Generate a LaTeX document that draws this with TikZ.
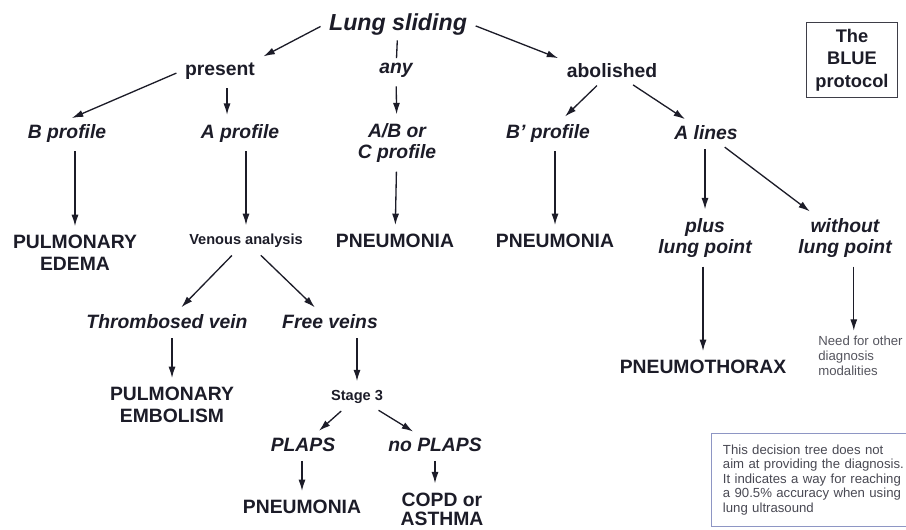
\documentclass[tikz,border=0pt]{standalone}
\usepackage{fontspec}
\setmainfont{Liberation Sans}
\usepackage{tikz}
\usetikzlibrary{positioning}
\usetikzlibrary{arrows.meta}

\definecolor{ink}{HTML}{1C1C28}
\definecolor{noteline}{HTML}{8E96C4}

\tikzset{
    outcome/.style={font=\fontsize{11}{12.5}\selectfont\bfseries, text=ink, align=center, inner sep=2pt},
    finding/.style={font=\fontsize{11}{12}\selectfont\bfseries\itshape, text=ink, align=center, inner sep=2pt},
    branch/.style={font=\fontsize{11}{12.5}\selectfont\bfseries, text=ink, inner sep=2pt},
    minor/.style={font=\fontsize{8.3}{10}\selectfont\bfseries, text=ink, inner sep=2pt},
    arr/.style={-{Latex[length=6.5pt,width=4pt]}, line width=0.75pt, draw=ink, shorten >=3pt, shorten <=3pt},
    link/.style={line width=0.75pt, draw=ink, shorten >=0.5pt, shorten <=1pt},
}

\begin{document}
\begin{tikzpicture}[x=0.02cm, y=-0.02cm]
    \useasboundingbox (0,0) rectangle (906,529);

    \node [finding, font=\fontsize{13.2}{15}\selectfont\bfseries\itshape] (sliding) at (398,24) {Lung sliding};

    \node [branch] (present) at (220,71) {present};
    \node [finding] (any) at (396,70) {any};
    \node [branch] (abolished) at (612,71) {abolished};

    \node [finding] (bprof) at (67,133) {B profile};
    \node [finding] (aprof) at (240,133) {A profile};
    \node [finding] (abc) at (397,143) {A/B or\\C profile};
    \node [finding] (bpprof) at (548,133) {B' profile};
    \node [finding] (alines) at (706,133) {A lines};

    \node [outcome] (edema) at (75,253) {PULMONARY\\EDEMA};
    \node [minor] (venous) at (246,241) {Venous analysis};
    \node [outcome] (pneuab) at (395,241) {PNEUMONIA};
    \node [outcome] (pneubp) at (555,241) {PNEUMONIA};
    \node [finding] (plus) at (705,238) {plus\\lung point};
    \node [finding] (without) at (845,238) {without\\lung point};

    \node [finding] (thromb) at (167,322) {Thrombosed vein};
    \node [finding] (free) at (330,322) {Free veins};
    \node [outcome] (embol) at (172,405) {PULMONARY\\EMBOLISM};
    \node [minor] (stage) at (357,397) {Stage 3};
    \node [finding] (plaps) at (303,445) {PLAPS};
    \node [finding] (noplaps) at (435,445) {no PLAPS};
    \node [outcome] (pneupl) at (302,507) {PNEUMONIA};
    \node [outcome, font=\fontsize{11}{11}\selectfont\bfseries] (copd) at (442,509) {COPD or\\ASTHMA};

    \node [outcome] (ptx) at (703,367) {PNEUMOTHORAX};
    \node [font=\fontsize{7.5}{8.3}\selectfont, text=ink!75, align=left, anchor=north west, inner sep=0pt] (need) at (818,336) {Need for other\\diagnosis\\modalities};

    \node [draw=ink!85, line width=0.7pt, font=\fontsize{10.4}{12.8}\selectfont\bfseries, text=ink, align=center, minimum width=51.6pt, minimum height=42.5pt] (blue) at (852,60) {The\\BLUE\\protocol};

    \node [draw=noteline, line width=0.6pt, font=\fontsize{7.5}{8.2}\selectfont, text=ink!80, align=left, anchor=north west, inner xsep=6.5pt, inner ysep=6.5pt, text width=110pt] (note) at (711,433) {This decision tree does not\\aim at providing the diagnosis.\\It indicates a way for reaching\\a 90.5\% accuracy when using\\lung ultrasound};

    \draw [link] (sliding) -- (any);
    \draw [arr] (sliding.west) -- (present.north east);
    \draw [arr] (sliding.east) -- (abolished.north west);

    \draw [arr] (present.west) -- (bprof.north);
    \draw [arr] ([xshift=4pt]present.south) -- ([xshift=4pt]present.south |- aprof.north);
    \draw [arr] (any) -- (abc);
    \draw [arr] (abolished) -- (bpprof);
    \draw [arr] (abolished) -- (alines);

    \draw [arr] (bprof.south -| edema) -- (edema);
    \draw [arr] (aprof.south -| venous) -- (venous);
    \draw [arr] (abc) -- (pneuab);
    \draw [arr] (bpprof.south -| pneubp) -- (pneubp);
    \draw [arr] (alines.south -| plus) -- (plus);
    \draw [arr] (alines) -- (without);

    \draw [arr] (plus.south -| ptx) -- (ptx);
    \draw [arr] ([xshift=5pt]without.south) -- ([xshift=5pt]without.south |- need.north);

    \draw [arr] (venous) -- (thromb);
    \draw [arr] (venous) -- (free);
    \draw [arr] (thromb.south -| embol) -- (embol);
    \draw [arr] (free.south -| stage) -- (stage);
    \draw [arr] (stage) -- (plaps);
    \draw [arr] (stage) -- (noplaps);
    \draw [arr] (plaps.south -| pneupl) -- (pneupl);
    \draw [arr] (noplaps.south) -- (noplaps.south |- copd.north);
\end{tikzpicture}
\end{document}
